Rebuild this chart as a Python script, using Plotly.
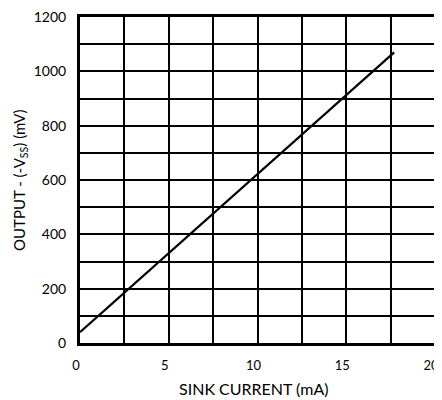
import plotly.graph_objects as go

# Sink current (mA) vs output (mV)
sink_current = [0, 5, 10, 15, 17.7]
output_mv = [40, 330, 620, 910, 1070]

x_ticks = [0, 5, 10, 15, 20]
y_ticks = [0, 200, 400, 600, 800, 1000, 1200]

FONT = "Lato, 'Liberation Sans', sans-serif"

fig = go.Figure()
fig.add_trace(go.Scatter(x=sink_current, y=output_mv, mode="lines",
                         line=dict(color="black", width=2.2),
                         showlegend=False, hoverinfo="skip"))

axis_common = dict(
    showline=True, linecolor="black", linewidth=3, mirror=True,
    showgrid=True, gridcolor="black", gridwidth=1.5,
    zeroline=False, ticks="outside", ticklen=8, tickcolor="rgba(0,0,0,0)",
    tickfont=dict(family=FONT, size=14, color="black"),
    ticklabeloverflow="allow",
    automargin=False,
)

# x labels sit a touch left of their gridlines in the reference
fig.update_xaxes(range=[0, 20], tickvals=x_ticks, ticklabelshift=-4,
                 minor=dict(dtick=2.5, showgrid=True, gridcolor="black", gridwidth=1.5),
                 **axis_common)
fig.update_xaxes(tickfont_size=13)
fig.update_yaxes(range=[0, 1200], tickvals=y_ticks,
                 minor=dict(dtick=100, showgrid=True, gridcolor="black", gridwidth=1.5),
                 **axis_common)

# axis titles as annotations so they sit where the reference puts them
fig.add_annotation(text="SINK CURRENT (mA)", xref="paper", yref="paper",
                   x=0.49, y=0, yshift=-45, xanchor="center", yanchor="middle",
                   showarrow=False, font=dict(family=FONT, size=16, color="black"))
fig.add_annotation(text="OUTPUT - (-V<sub>SS</sub>) (mV)", xref="paper", yref="paper",
                   x=0, y=0.5, xshift=-60, xanchor="center", yanchor="middle",
                   textangle=-90, showarrow=False,
                   font=dict(family=FONT, size=15, color="black"))

# the page body adds an 8px offset, so the figure is sized to fit what is left
fig.update_layout(width=434, height=392,
                  margin=dict(l=72, r=7, t=9, b=57),
                  paper_bgcolor="white", plot_bgcolor="white")

fig.write_html("out.html")
